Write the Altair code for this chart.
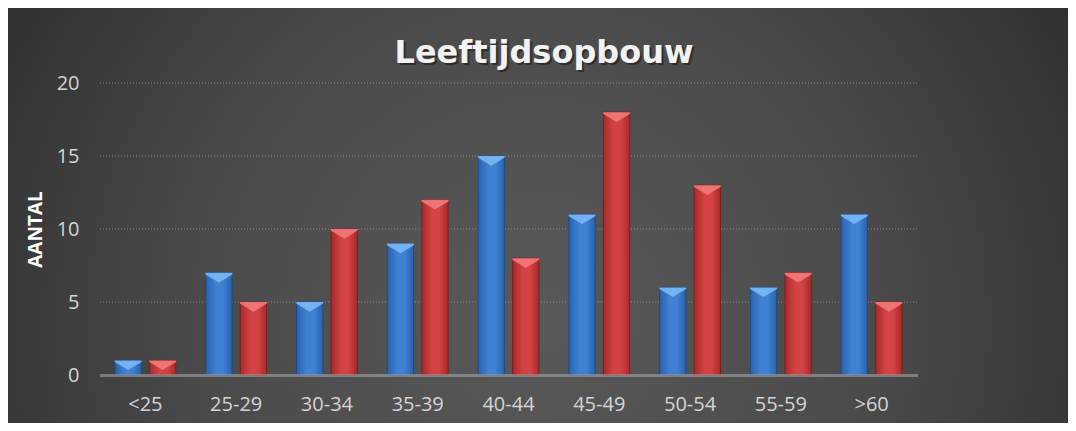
import altair as alt
import pandas as pd

categories = ["<25", "25-29", "30-34", "35-39", "40-44", "45-49", "50-54", "55-59", ">60"]
blue_values = [1, 7, 5, 9, 15, 11, 6, 6, 11]
red_values = [1, 5, 10, 12, 8, 18, 13, 7, 5]
series_names = ["A", "B"]
grid_values = [5, 10, 15, 20]
title_text = "Leeftijdsopbouw"

rows = []
for c, b, r in zip(categories, blue_values, red_values):
    rows.append({"cat": c, "series": "A", "value": b})
    rows.append({"cat": c, "series": "B", "value": r})
df = pd.DataFrame(rows)
grid_df = pd.DataFrame({"value": grid_values})

W, H = 817, 292
PL, PT, PR, PB = 92, 75, 151, 48

bg_grad = {
    "gradient": "radial",
    "x1": 0.5, "y1": 0.6, "r1": 0.0,
    "x2": 0.5, "y2": 0.6, "r2": 0.72,
    "stops": [
        {"offset": 0.0, "color": "#595959"},
        {"offset": 0.45, "color": "#4a4a4a"},
        {"offset": 1.0, "color": "#232323"},
    ],
}

bg = alt.Chart(alt.Data(values=[{"a": 1}])).mark_rect(fill=bg_grad, clip=False).encode(
    x=alt.value(-PL), x2=alt.value(W + PR), y=alt.value(-PT), y2=alt.value(H + PB)
)

title_data = alt.Data(values=[{"t": title_text}])
title_shadow = alt.Chart(title_data).mark_text(
    font="DejaVu Sans", fontSize=32, fontWeight="bold", color="#151515", opacity=0.55,
    align="center", baseline="alphabetic", clip=False
).encode(x=alt.value(446), y=alt.value(-18), text="t:N")
title = alt.Chart(title_data).mark_text(
    font="DejaVu Sans", fontSize=32, fontWeight="bold", color="#f2f2f2",
    align="center", baseline="alphabetic", clip=False
).encode(x=alt.value(444), y=alt.value(-20), text="t:N")

xenc = alt.X(
    "cat:N", sort=categories, title=None,
    scale=alt.Scale(paddingInner=0.33, paddingOuter=0.165),
    axis=alt.Axis(labelAngle=0, labelFontSize=20, labelColor="#d4d4d4", labelFont="Open Sans",
                  labelPadding=19, ticks=False, domain=True, domainColor="#b4b4b4",
                  domainWidth=3, domainDash=[1, 1], grid=False, zindex=1),
)
yscale = alt.Scale(domain=[0, 20])
yaxis = alt.Axis(values=[0, 5, 10, 15, 20], labelFontSize=20, labelColor="#d4d4d4",
                 labelFont="Open Sans", labelPadding=21, ticks=False, domain=False,
                 grid=False, zindex=1,
                 titleFont="Open Sans", titleFontSize=19, titleFontWeight="bold",
                 titleColor="#ffffff", titlePadding=11)
yenc = alt.Y("value:Q", title="AANTAL", scale=yscale, axis=yaxis)
xoff = alt.XOffset("series:N", scale=alt.Scale(domain=series_names, paddingInner=0.24, paddingOuter=0))

gridlines = alt.Chart(grid_df).mark_rule(color="#a8a8a8", strokeDash=[1, 2], strokeWidth=1, opacity=0.7).encode(
    y=yenc
)

def grad(edge, mid):
    return {
        "gradient": "linear", "x1": 0, "y1": 0, "x2": 1, "y2": 0,
        "stops": [
            {"offset": 0.0, "color": edge},
            {"offset": 0.4, "color": mid},
            {"offset": 0.65, "color": mid},
            {"offset": 1.0, "color": edge},
        ],
    }

base = alt.Chart(df)

blue = base.transform_filter("datum.series == 'A'").mark_bar(
    fill=grad("#2a62ad", "#3f82d4"), stroke="#1d4a85", strokeWidth=1
).encode(x=xenc, y=yenc, xOffset=xoff)

red = base.transform_filter("datum.series == 'B'").mark_bar(
    fill=grad("#a92a2a", "#d44343"), stroke="#7e1e1e", strokeWidth=1
).encode(x=xenc, y=yenc, xOffset=xoff)

tri_path = "M-1,0L1,0L1,0.12L0,0.72L-1,0.12Z"

blue_top = base.transform_filter("datum.series == 'A'").mark_point(
    shape=tri_path, size=729, filled=True, fill="#7ab8f5", opacity=0.9, strokeWidth=0
).encode(x=xenc, y=yenc, xOffset=xoff)

red_top = base.transform_filter("datum.series == 'B'").mark_point(
    shape=tri_path, size=729, filled=True, fill="#f27a7a", opacity=0.9, strokeWidth=0
).encode(x=xenc, y=yenc, xOffset=xoff)

chart = alt.layer(bg, gridlines, blue, red, blue_top, red_top, title_shadow, title).properties(
    width=W, height=H,
    padding={"left": PL, "top": PT, "right": PR, "bottom": PB},
    autosize=alt.AutoSizeParams(type="none"),
    background="#2e2e2e",
).configure_view(stroke=None)

chart.save("out.html", embed_options={"renderer": "svg", "actions": False})
